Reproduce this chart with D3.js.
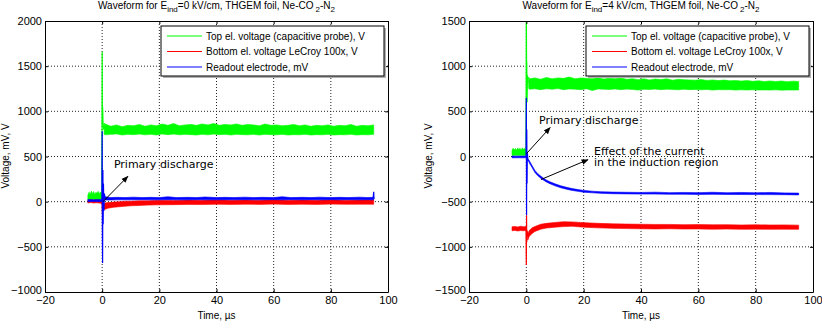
<!DOCTYPE html>
<html>
<head>
<meta charset="utf-8">
<script src="https://cdn.jsdelivr.net/npm/d3@7"></script>
<style>
  body { margin: 0; background: #fff; }
  text { font-family: "Liberation Sans", Arial, sans-serif; fill: #000; }
  .annot { font-family: "DejaVu Sans", sans-serif; font-size: 11px; }
</style>
</head>
<body>
<div id="fig"></div>
<script>
//------------------ données ----------------------------------------

const xTicks = [-20, 0, 20, 40, 60, 80, 100];
const yTicks0 = [-1000, -500, 0, 500, 1000, 1500, 2000];
const yTicks4 = [-1500, -1000, -500, 0, 500, 1000, 1500];

const legendLabels = ["Top el. voltage (capacitive probe), V", "Bottom el. voltage LeCroy 100x, V", "Readout electrode, mV"];
const seriesColors = ["#00ff00", "#ff0000", "#0000ff"];

// E_ind = 0 kV/cm : enveloppes [t, min, max] + pics [t, v]
const green0Band = [
  [-5,20,70],[-4.6,15,105],[-4.2,25,80],[-3.8,20,118],[-3.4,15,88],[-3,25,112],[-2.6,20,78],[-2.2,15,104],
  [-1.8,25,92],[-1.4,20,115],[-1,15,86],[-0.6,25,108],[-0.1,20,80],
  [0,null,null],
  [0.7,745,870],[1,740,860],[3,745,835],[5,750,850],[7,738,830],[9,745,845],[11,742,840],[13,748,855],
  [15,740,835],[17,745,850],[19,738,840],[21,750,860],[23,742,845],[25,748,865],[27,740,840],[29,745,850],
  [31,742,855],[33,738,845],[35,745,860],[37,740,850],[39,748,865],[41,742,845],[43,745,855],[45,738,850],
  [47,745,860],[49,742,845],[51,740,855],[53,745,850],[55,738,840],[57,745,860],[59,742,845],[61,740,850],
  [63,745,840],[65,738,845],[67,742,855],[69,740,840],[71,745,850],[73,738,835],[75,742,845],[77,740,840],
  [79,745,850],[81,738,835],[83,742,845],[85,740,840],[87,745,855],[89,738,835],[91,742,845],[93,740,840],[95,745,850]
];
const green0Spike = [[-0.1,50],[0,1660],[0.08,900],[0.15,1050],[0.3,880],[0.5,800],[0.8,830]];

const red0Band = [
  [-5,-15,15],[-4,-10,22],[-3,-15,15],[-2,-12,20],[-1,-15,15],[-0.1,-20,10],
  [0,null,null],
  [0.5,-95,-25],[1,-85,-15],[2,-72,-10],[4,-62,-5],[6,-56,0],[8,-50,5],[10,-46,5],[13,-42,10],[16,-38,10],
  [20,-35,15],[25,-33,12],[30,-30,18],[35,-32,15],[40,-28,20],[45,-30,16],[50,-28,18],[55,-30,15],
  [60,-27,20],[65,-30,16],[70,-28,18],[75,-30,15],[80,-27,20],[85,-29,17],[90,-28,18],[95,-28,20]
];
const red0Spike = [[-0.1,0],[0,-20],[0.1,-130],[0.2,30],[0.35,-90],[0.5,-60]];

const blue0Band = [
  [-5,0,25],[-3,2,22],[-1,0,25],[-0.1,2,22],
  [0,null,null],
  [1,18,55],[3,18,45],[5,20,48],[8,20,45],[11,20,50],[14,22,45],[17,20,48],[20,20,45],[23,22,55],[26,20,45],
  [30,20,48],[33,22,45],[36,20,52],[40,20,45],[43,22,48],[46,20,45],[50,22,50],[53,20,45],[56,20,48],
  [60,22,45],[63,20,55],[66,22,45],[70,20,48],[73,22,45],[76,20,50],[80,22,45],[83,20,48],[86,22,45],
  [90,20,50],[93,22,45],[95,20,48]
];
const blue0Spike = [[-0.1,10],[0,780],[0.08,-400],[0.15,-680],[0.25,350],[0.35,-250],[0.45,200],[0.6,-100],[0.8,90],[1,30]];
const blue0End = [[94.8,40],[95,110],[95.1,30]];

// E_ind = 4 kV/cm
const green4Band = [
  [-5,10,70],[-4.6,10,92],[-4.2,15,75],[-3.8,10,88],[-3.4,15,70],[-3,10,95],[-2.6,12,78],[-2.2,10,90],
  [-1.8,15,72],[-1.4,10,96],[-1,12,80],[-0.6,10,88],[-0.1,15,75],
  [0,null,null],
  [0.8,760,880],[1,745,860],[3,750,870],[5,740,855],[7,750,875],[9,745,860],[11,752,870],[13,740,865],
  [15,748,880],[17,745,860],[19,740,870],[21,750,865],[23,730,860],[25,748,872],[27,745,858],[29,742,866],
  [31,748,860],[33,740,870],[35,746,855],[37,742,862],[39,735,850],[41,745,860],[43,742,848],[45,746,858],
  [47,740,852],[49,745,860],[51,742,845],[53,738,855],[55,745,850],[57,740,848],[59,742,845],[61,738,852],
  [63,742,842],[65,735,848],[67,740,840],[69,738,846],[71,740,838],[73,735,842],[75,738,835],[77,736,840],
  [79,738,832],[81,735,838],[83,737,830],[85,735,836],[87,738,830],[89,734,835],[91,736,828],[93,735,834],[95,737,830]
];
const green4Spike = [[-0.1,50],[0,1700],[0.08,1000],[0.15,1050],[0.25,600],[0.4,900],[0.6,830],[0.8,820]];

const red4Band = [
  [-5,-822,-778],[-4,-818,-775],[-3,-825,-780],[-2,-820,-772],[-1,-822,-778],[-0.1,-818,-776],
  [0,null,null],
  [0.5,-925,-860],[1,-885,-820],[2,-852,-790],[3,-830,-775],[5,-805,-750],[7,-792,-740],[10,-782,-730],
  [13,-776,-722],[16,-772,-724],[19,-780,-730],[22,-786,-735],[25,-790,-740],[30,-795,-745],[35,-798,-748],
  [40,-800,-750],[45,-802,-752],[50,-800,-752],[55,-803,-755],[60,-802,-754],[65,-805,-756],[70,-803,-755],
  [75,-806,-758],[80,-804,-756],[85,-806,-758],[90,-805,-757],[95,-806,-760]
];
const red4Spike = [[-0.1,-795],[0,-1200],[0.08,-650],[0.15,-950],[0.3,-820],[0.5,-890]];

const blue4Band = [
  [-5,-15,5],[-3,-14,4],[-1,-15,5],[-0.1,-14,5],
  [0,null,null],
  [1,-70,-45],[1.5,-95,-72],[2,-122,-100],[3,-178,-155],[4,-212,-190],[5,-240,-216],[6,-262,-240],
  [7,-282,-260],[8,-298,-277],[10,-325,-303],[12,-346,-324],[14,-362,-341],[16,-376,-355],[18,-386,-366],
  [20,-395,-375],[23,-402,-384],[26,-408,-390],[30,-412,-394],[35,-414,-396],[40,-416,-398],[45,-416,-395],
  [50,-418,-400],[55,-418,-398],[60,-420,-400],[65,-419,-396],[70,-420,-401],[75,-421,-398],[80,-422,-402],
  [85,-422,-398],[90,-423,-403],[95,-425,-405]
];
const blue4Spike = [[-0.1,0],[0,650],[0.08,-650],[0.15,300],[0.25,-300],[0.35,50],[0.5,-20],[0.7,-40],[1,-58]];

//------------------ mise en page -------------------

const width = 822, height = 321;

const svg = d3.select("#fig").append("svg")
  .attr("width", width)
  .attr("height", height);

// tete de fleche pour les annotations
svg.append("defs").append("marker")
  .attr("id", "arrow")
  .attr("viewBox", [0, 0, 10, 10])
  .attr("refX", 9)
  .attr("refY", 5)
  .attr("markerWidth", 7)
  .attr("markerHeight", 7)
  .attr("markerUnits", "userSpaceOnUse")
  .attr("orient", "auto")
  .append("path")
  .attr("d", "M0,1L10,5L0,9Z")
  .attr("fill", "#000");

function drawPanel(cfg) {
  const x = d3.scaleLinear().domain([-20, 100]).range([cfg.left, cfg.right]);
  const y = d3.scaleLinear().domain(cfg.yDomain).range([292, 21]);

  const g = svg.append("g");

  g.append("clipPath").attr("id", cfg.id + "clip")
    .append("rect")
    .attr("x", cfg.left).attr("y", 21)
    .attr("width", cfg.right - cfg.left).attr("height", 271);

  // grille pointillée
  g.selectAll(".gx").data(xTicks.slice(1, -1)).enter().append("line")
    .attr("x1", d => x(d)).attr("x2", d => x(d))
    .attr("y1", 21).attr("y2", 292)
    .style("stroke", "#222").style("stroke-dasharray", "1,2");
  g.selectAll(".gy").data(cfg.yTicks.slice(1, -1)).enter().append("line")
    .attr("x1", cfg.left).attr("x2", cfg.right)
    .attr("y1", d => y(d)).attr("y2", d => y(d))
    .style("stroke", "#222").style("stroke-dasharray", "1,2");

  // séries
  const plot = g.append("g").attr("clip-path", "url(#" + cfg.id + "clip)");
  const area = d3.area()
    .defined(d => d[1] !== null)
    .x(d => x(d[0])).y0(d => y(d[1])).y1(d => y(d[2]));
  const line = d3.line().x(d => x(d[0])).y(d => y(d[1]));

  cfg.series.forEach((s, i) => {
    plot.append("path").attr("d", area(s.band))
      .style("fill", seriesColors[i]).style("stroke", seriesColors[i]).style("stroke-width", 0.6);
    s.spikes.forEach(sp => {
      plot.append("path").attr("d", line(sp))
        .style("fill", "none").style("stroke", seriesColors[i]).style("stroke-width", 1.2);
    });
  });

  // axes (graduations vers l'intérieur, cadre complet)
  const ax = g.append("g").attr("transform", "translate(0,292)")
    .call(d3.axisBottom(x).tickValues(xTicks).tickFormat(d3.format("d"))
      .tickSizeInner(-3).tickSizeOuter(0).tickPadding(4));
  g.append("g").attr("transform", "translate(0,21)")
    .call(d3.axisTop(x).tickValues(xTicks).tickSizeInner(-3).tickSizeOuter(0).tickFormat(""));
  const ay = g.append("g").attr("transform", "translate(" + cfg.left + ",0)")
    .call(d3.axisLeft(y).tickValues(cfg.yTicks).tickFormat(d3.format("d"))
      .tickSizeInner(-3).tickSizeOuter(0).tickPadding(3));
  g.append("g").attr("transform", "translate(" + cfg.right + ",0)")
    .call(d3.axisRight(y).tickValues(cfg.yTicks).tickSizeInner(-3).tickSizeOuter(0).tickFormat(""));

  g.selectAll(".domain").style("stroke", "#000");
  g.selectAll(".tick line").style("stroke", "#000");
  ax.selectAll("text").style("font-size", "11px").style("font-family", "Liberation Sans, Arial, sans-serif");
  ay.selectAll("text").style("font-size", "11px").style("font-family", "Liberation Sans, Arial, sans-serif");
  // le libellé du bas de l'axe y remonte un peu pour ne pas toucher celui de l'axe x
  ay.selectAll(".tick text").filter(d => d === cfg.yDomain[0]).attr("dy", "0.1em");

  // titre avec indices
  const title = g.append("text")
    .attr("x", (cfg.left + cfg.right) / 2).attr("y", 9)
    .attr("text-anchor", "middle").style("font-size", "10px");
  title.append("tspan").text("Waveform for E");
  title.append("tspan").attr("dy", 3).style("font-size", "8px").text("ind");
  title.append("tspan").attr("dy", -3).text("=" + cfg.eind + " kV/cm, THGEM foil, Ne-CO");
  title.append("tspan").attr("dy", 3).attr("dx", 2).style("font-size", "8px").text("2");
  title.append("tspan").attr("dy", -3).text("-N");
  title.append("tspan").attr("dy", 3).style("font-size", "8px").text("2");

  // titres d'axes
  g.append("text")
    .attr("x", (cfg.left + cfg.right) / 2).attr("y", 319)
    .attr("text-anchor", "middle").style("font-size", "10px")
    .text("Time, \u00b5s");
  g.append("text")
    .attr("transform", "translate(" + cfg.ylabX + ",156) rotate(-90)")
    .attr("text-anchor", "middle").style("font-size", "10px")
    .text("Voltage, mV, V");

  // légende
  const lx = cfg.right - 4 - 223, ly = 26;
  g.append("rect").attr("x", lx + 2).attr("y", ly + 2).attr("width", 223).attr("height", 50)
    .style("fill", "#b0b0b0");
  g.append("rect").attr("x", lx).attr("y", ly).attr("width", 223).attr("height", 50)
    .style("fill", "#fff").style("stroke", "#000");
  legendLabels.forEach((lab, i) => {
    const yy = ly + 10 + i * 15.5;
    g.append("line").attr("x1", lx + 6).attr("x2", lx + 41).attr("y1", yy).attr("y2", yy)
      .style("stroke", seriesColors[i]).style("stroke-width", 1.2);
    g.append("text").attr("x", lx + 45).attr("y", yy + 3.5).style("font-size", "10px").text(lab);
  });

  // annotations
  cfg.notes.forEach(n => {
    const t = g.append("text").attr("class", "annot")
      .attr("x", x(n.tx)).attr("y", y(n.ty));
    n.lines.forEach((l, k) => {
      t.append("tspan").attr("x", x(n.tx)).attr("dy", k ? 11.5 : 0).text(l);
    });
    g.append("line")
      .attr("x1", x(n.from[0])).attr("y1", y(n.from[1]))
      .attr("x2", x(n.to[0])).attr("y2", y(n.to[1]))
      .style("stroke", "#000").style("stroke-width", 1)
      .attr("marker-end", "url(#arrow)");
  });
}

drawPanel({
  id: "p0", left: 45, right: 388, yDomain: [-1000, 2000], yTicks: yTicks0, eind: "0", ylabX: 9,
  series: [
    { band: green0Band, spikes: [green0Spike] },
    { band: red0Band, spikes: [red0Spike] },
    { band: blue0Band, spikes: [blue0Spike, blue0End] }
  ],
  notes: [
    { lines: ["Primary discharge"], tx: 4.1, ty: 375, from: [0.3, 0], to: [9, 280] }
  ]
});

drawPanel({
  id: "p4", left: 469, right: 813, yDomain: [-1500, 1500], yTicks: yTicks4, eind: "4", ylabX: 432,
  series: [
    { band: green4Band, spikes: [green4Spike] },
    { band: red4Band, spikes: [red4Spike] },
    { band: blue4Band, spikes: [blue4Spike] }
  ],
  notes: [
    { lines: ["Primary discharge"], tx: 4.4, ty: 355, from: [0, 30], to: [8.3, 320] },
    { lines: ["Effect of the current", "in the induction region"], tx: 23.6, ty: 22, from: [5.1, -255], to: [21.5, -35] }
  ]
});
</script>
</body>
</html>
